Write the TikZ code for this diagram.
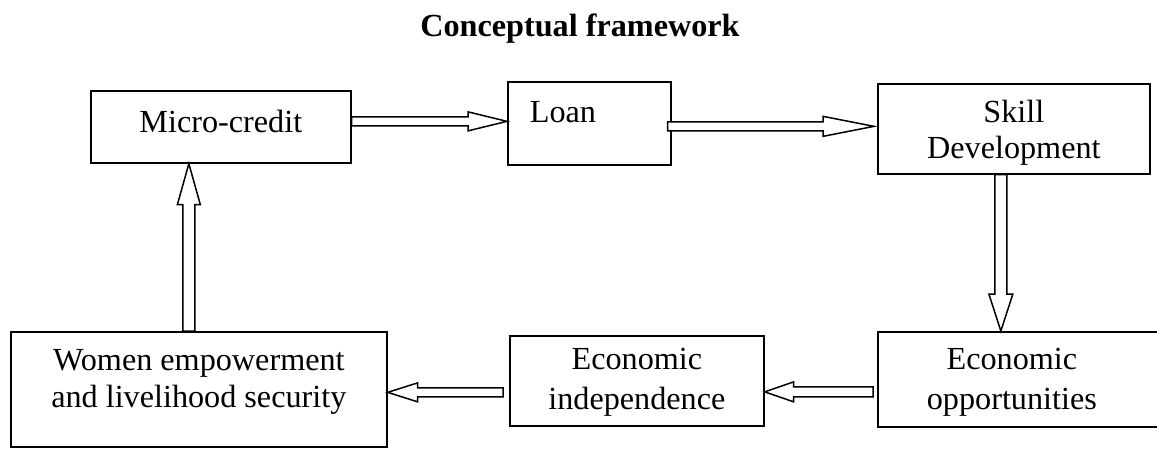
\documentclass[tikz,border=0pt]{standalone}
\usepackage{fontspec}
\setmainfont{Liberation Serif}
\usetikzlibrary{calc}
\tikzset{
  boxnode/.style={draw, line width=1.7pt, inner sep=0pt, anchor=north west,
    font=\fontsize{32.2}{37}\selectfont},
  blk/.style={draw, line width=1.5pt, fill=white, line join=miter},
}
% #1 width, #2 height, #3 first baseline offset, #4 alignment, #5 line skip, #6 text
\newcommand\bx[6]{\parbox[c][#2pt][t]{#1pt}{#4\baselineskip=#5pt\relax\rule{0pt}{#3pt}#6}}
% #1 half shaft, #2 half head, #3 head length, #4 start coordinate, #5 tip coordinate
\newcommand\blockarrow[5]{%
  \coordinate (ba-b) at ($(#5)!#3pt!(#4)$);
  \draw[blk] ($(#4)!#1pt!90:(#5)$) -- ($(ba-b)!#1pt!-90:(#4)$)
    -- ($(ba-b)!#2pt!-90:(#4)$) -- (#5) -- ($(ba-b)!#2pt!90:(#4)$)
    -- ($(ba-b)!#1pt!90:(#4)$) -- ($(#4)!#1pt!-90:(#5)$) -- cycle;
}
\begin{document}
\begin{tikzpicture}[x=1pt, y=-1pt]
\useasboundingbox (0,0) rectangle (1157,448);
\fill[white] (0,0) rectangle (1157,448);
\clip (0,0) rectangle (1157,448);

\node[font=\bfseries\fontsize{32.2}{37}\selectfont, anchor=base] (title) at (580,36) {Conceptual framework};

\node[boxnode] (mc) at (90,90) {\bx{260}{72}{42}{\centering}{37}{Micro-credit}};
\node[boxnode] (loan) at (507,81) {\bx{163}{83}{41}{\raggedright\leftskip=22pt}{37}{Loan}};
\node[boxnode] (skill) at (877,83) {\bx{272}{90}{39}{\centering}{36}{Skill\\Development}};
\node[boxnode] (opp) at (877,331) {\bx{290}{95}{38}{\centering\rightskip=22pt plus 1fil}{40}{Economic\\opportunities}};
\node[boxnode] (indep) at (509,335) {\bx{254}{90}{34}{\centering}{40}{Economic\\independence}};
\node[boxnode] (women) at (10,331) {\bx{376}{115}{39}{\centering}{37}{Women empowerment\\and livelihood security}};

\coordinate (a1s) at ($(mc.east)+(0,-5.5)$);
\coordinate (a1e) at (a1s -| loan.west);
\blockarrow{4.5}{9.5}{39}{a1s}{a1e}

\coordinate (a2s) at ($(loan.east)+(-4,3)$);
\coordinate (a2e) at ($(a2s -| skill.west)+(-3,0)$);
\blockarrow{4.5}{10}{51}{a2s}{a2e}

\coordinate (a3s) at ($(skill.south)+(-13,0)$);
\coordinate (a3e) at (a3s |- opp.north);
\blockarrow{6}{12}{37}{a3s}{a3e}

\coordinate (a4s) at ($(opp.west)+(-4,12.5)$);
\coordinate (a4e) at (a4s -| indep.east);
\blockarrow{5}{10}{29}{a4s}{a4e}

\coordinate (a5s) at ($(indep.west)+(-6,11.5)$);
\coordinate (a5e) at (a5s -| women.east);
\blockarrow{4.5}{9.5}{30}{a5s}{a5e}

\coordinate (a6s) at ($(women.north)+(-10,0)$);
\coordinate (a6e) at (a6s |- mc.south);
\blockarrow{6}{11.5}{41}{a6s}{a6e}
\end{tikzpicture}
\end{document}
